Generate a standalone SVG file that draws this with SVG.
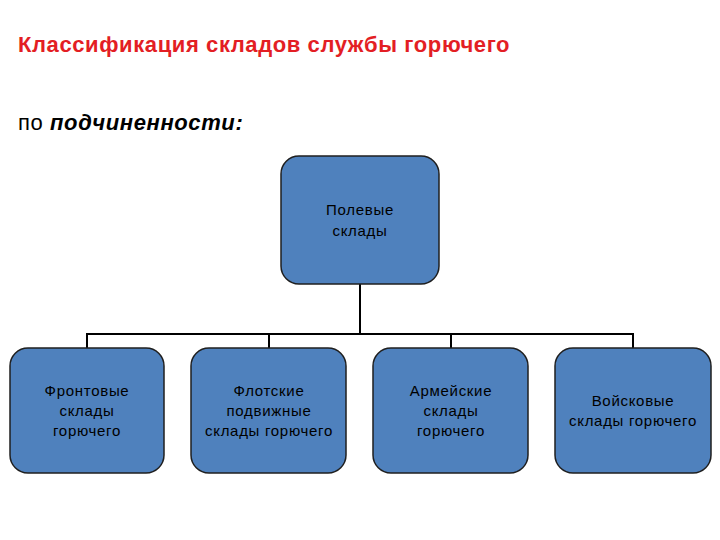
<svg xmlns="http://www.w3.org/2000/svg" width="720" height="540" viewBox="0 0 720 540">
<style>
.box{fill:#4f81bd;stroke:#1f1f1f;stroke-width:1.5}
.t{font-family:"Liberation Sans",Arial,sans-serif;font-size:15px;letter-spacing:0.7px;fill:#000;text-anchor:middle}
.c{stroke:#000;stroke-width:2;fill:none}
</style>
<rect width="720" height="540" fill="#fff"/>
<text x="18" y="52" font-family="Liberation Sans,Arial,sans-serif" font-size="22" letter-spacing="0.6" font-weight="bold" fill="#e31e24">Классификация складов службы горючего</text>
<text x="18" y="130" font-family="Liberation Sans,Arial,sans-serif" font-size="22" letter-spacing="0.6" fill="#000">по <tspan font-weight="bold" font-style="italic">подчиненности:</tspan></text>
<g id="connectors">
<path class="c" d="M360 284V334M87 334H633M87 333V348M269 333V348M451 333V348M633 333V348"/>
</g>
<g id="n0"><rect class="box" x="281" y="156" width="158" height="128" rx="18"/><text class="t" x="360" y="215">Полевые</text><text class="t" x="360" y="236">склады</text></g>
<g id="n1"><rect class="box" x="10" y="348" width="154" height="125" rx="18"/><text class="t" x="87" y="396">Фронтовые</text><text class="t" x="87" y="416">склады</text><text class="t" x="87" y="436">горючего</text></g>
<g id="n2"><rect class="box" x="191" y="348" width="155" height="125" rx="18"/><text class="t" x="269" y="396">Флотские</text><text class="t" x="269" y="416">подвижные</text><text class="t" x="269" y="436">склады горючего</text></g>
<g id="n3"><rect class="box" x="373" y="348" width="155" height="125" rx="18"/><text class="t" x="451" y="396">Армейские</text><text class="t" x="451" y="416">склады</text><text class="t" x="451" y="436">горючего</text></g>
<g id="n4"><rect class="box" x="555" y="348" width="156" height="125" rx="18"/><text class="t" x="633" y="406">Войсковые</text><text class="t" x="633" y="426">склады горючего</text></g>
</svg>
